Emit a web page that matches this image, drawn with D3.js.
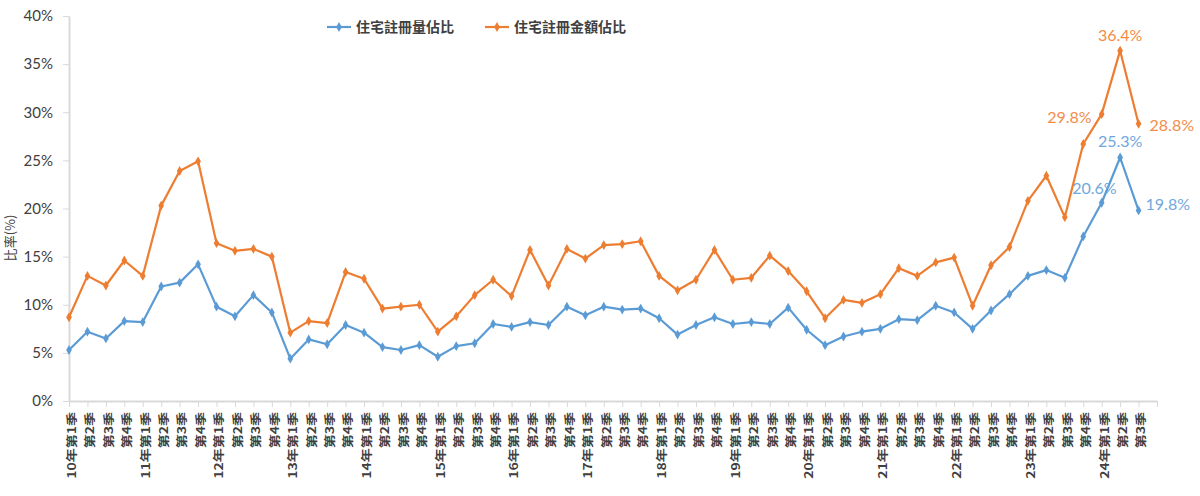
<!DOCTYPE html>
<html>
<head>
<meta charset="utf-8">
<script src="https://cdn.jsdelivr.net/npm/d3@7"></script>
<style>
  body { margin: 0; background: #fff; }
  svg { display: block; }
  .axis path, .axis line { stroke: #d9d9d9; }
  .y-axis text { font-family: Lato, "Open Sans", sans-serif; font-size: 15px; fill: #404040; }
  .x-axis text { font-family: "Noto Sans CJK TC", sans-serif; font-size: 14px; font-weight: bold; fill: #404040; }
  .legend text { font-family: "Noto Sans CJK TC", sans-serif; font-size: 14px; font-weight: bold; fill: #404040; }
  .value-label { font-family: Lato, "Open Sans", sans-serif; font-size: 16px; }
</style>
</head>
<body>
<svg width="1200" height="496"></svg>
<script>
const years = ['10', '11', '12', '13', '14', '15', '16', '17', '18', '19', '20', '21', '22', '23', '24'];
const quarters = [];
years.forEach(y => {
  [1, 2, 3, 4].forEach(q => {
    if (y === '24' && q === 4) return;
    quarters.push(q === 1 ? `${y}年第1季` : `第${q}季`);
  });
});

// 住宅註冊量佔比 (%)
const volumeShare = [
  5.3, 7.2, 6.5, 8.3, 8.2, 11.9, 12.3, 14.2, 9.8, 8.8, 11.0, 9.2,
  4.4, 6.4, 5.9, 7.9, 7.1, 5.6, 5.3, 5.8, 4.6, 5.7, 6.0, 8.0,
  7.7, 8.2, 7.9, 9.8, 8.9, 9.8, 9.5, 9.6, 8.6, 6.9, 7.9, 8.7,
  8.0, 8.2, 8.0, 9.7, 7.4, 5.8, 6.7, 7.2, 7.5, 8.5, 8.4, 9.9,
  9.2, 7.5, 9.4, 11.1, 13.0, 13.6, 12.8, 17.1, 20.6, 25.3, 19.8
];
// 住宅註冊金額佔比 (%)
const amountShare = [
  8.7, 13.0, 12.0, 14.6, 13.0, 20.3, 23.9, 24.9, 16.4, 15.6, 15.8, 15.0,
  7.1, 8.3, 8.1, 13.4, 12.7, 9.6, 9.8, 10.0, 7.2, 8.8, 11.0, 12.6,
  10.9, 15.7, 12.0, 15.8, 14.8, 16.2, 16.3, 16.6, 13.0, 11.5, 12.6, 15.7,
  12.6, 12.8, 15.1, 13.5, 11.4, 8.6, 10.5, 10.2, 11.1, 13.8, 13.0, 14.4,
  14.9, 9.9, 14.1, 16.0, 20.8, 23.4, 19.1, 26.7, 29.8, 36.4, 28.8
];
const yTicks = [0, 5, 10, 15, 20, 25, 30, 35, 40];

const series = [
  {name: '住宅註冊量佔比', values: volumeShare, color: '#5b9bd5', labelColor: '#6fa8dc',
   labels: [{i: 56, dx: 15, dy: -9, anchor: 'end'}, {i: 57, dx: 0, dy: -10, anchor: 'middle'}, {i: 58, dx: 7, dy: 0, anchor: 'start'}]},
  {name: '住宅註冊金額佔比', values: amountShare, color: '#ed7d31', labelColor: '#f28d49',
   labels: [{i: 56, dx: -10, dy: 9, anchor: 'end'}, {i: 57, dx: 0, dy: -10, anchor: 'middle'}, {i: 58, dx: 11, dy: 7, anchor: 'start'}]}
];

const svg = d3.select('svg');

const x = d3.scaleLinear().domain([0, quarters.length]).range([69, 1157]);
const y = d3.scaleLinear().domain([0, 40]).range([401, 16]);

svg.append('g')
    .attr('class', 'axis y-axis')
    .attr('transform', `translate(${x(0)},0)`)
    .call(d3.axisLeft(y).tickValues(yTicks).tickFormat(d => d + '%').tickSize(6).tickPadding(10).tickSizeOuter(0))
    .call(g => g.select('.domain').attr('stroke-width', 2));

const xAxis = svg.append('g')
    .attr('class', 'axis x-axis')
    .attr('transform', `translate(0,${y(0)})`)
    .call(d3.axisBottom(x).tickValues(d3.range(0, quarters.length + 1)).tickFormat(i => quarters[i] || '').tickSize(6).tickSizeOuter(0))
    .call(g => g.select('.domain').attr('stroke-width', 2));

xAxis.selectAll('text')
    .attr('transform', 'rotate(-90) scale(1,0.8)')
    .attr('text-anchor', 'end')
    .attr('x', -11)
    .attr('y', 3)
    .attr('dy', '0.35em');

svg.append('text')
    .attr('transform', 'translate(15,238) rotate(-90)')
    .attr('text-anchor', 'middle')
    .attr('font-family', '"Noto Sans CJK TC", sans-serif')
    .attr('font-size', 13)
    .attr('fill', '#404040')
    .text('比率(%)');

const line = d3.line()
    .x((d, i) => x(i))
    .y(d => y(d));

const diamond = d3.symbol().type(d3.symbolDiamond).size(28);

series.forEach(s => {
  const g = svg.append('g');
  g.append('path')
      .datum(s.values)
      .attr('fill', 'none')
      .attr('stroke', s.color)
      .attr('stroke-width', 2.2)
      .attr('stroke-linejoin', 'round')
      .attr('d', line);
  g.selectAll('path.marker').data(s.values)
    .enter().append('path')
      .attr('class', 'marker')
      .attr('d', diamond)
      .attr('fill', s.color)
      .attr('transform', (d, i) => `translate(${x(i)},${y(d)})`);
  g.selectAll('text').data(s.labels)
    .enter().append('text')
      .attr('class', 'value-label')
      .attr('fill', s.labelColor)
      .attr('text-anchor', d => d.anchor)
      .attr('x', d => x(d.i) + d.dx)
      .attr('y', d => y(s.values[d.i]) + d.dy)
      .text(d => s.values[d.i].toFixed(1) + '%');
});

const legend = svg.append('g').attr('class', 'legend');
const legendX = [327, 485];
series.forEach((s, k) => {
  const lg = legend.append('g').attr('transform', `translate(${legendX[k]},27)`);
  lg.append('line').attr('x1', 0).attr('x2', 24).attr('stroke', s.color).attr('stroke-width', 2.2);
  lg.append('path').attr('d', diamond).attr('fill', s.color).attr('transform', 'translate(12,0)');
  lg.append('text').attr('x', 29).attr('dy', '0.35em').text(s.name);
});
</script>
</body>
</html>
